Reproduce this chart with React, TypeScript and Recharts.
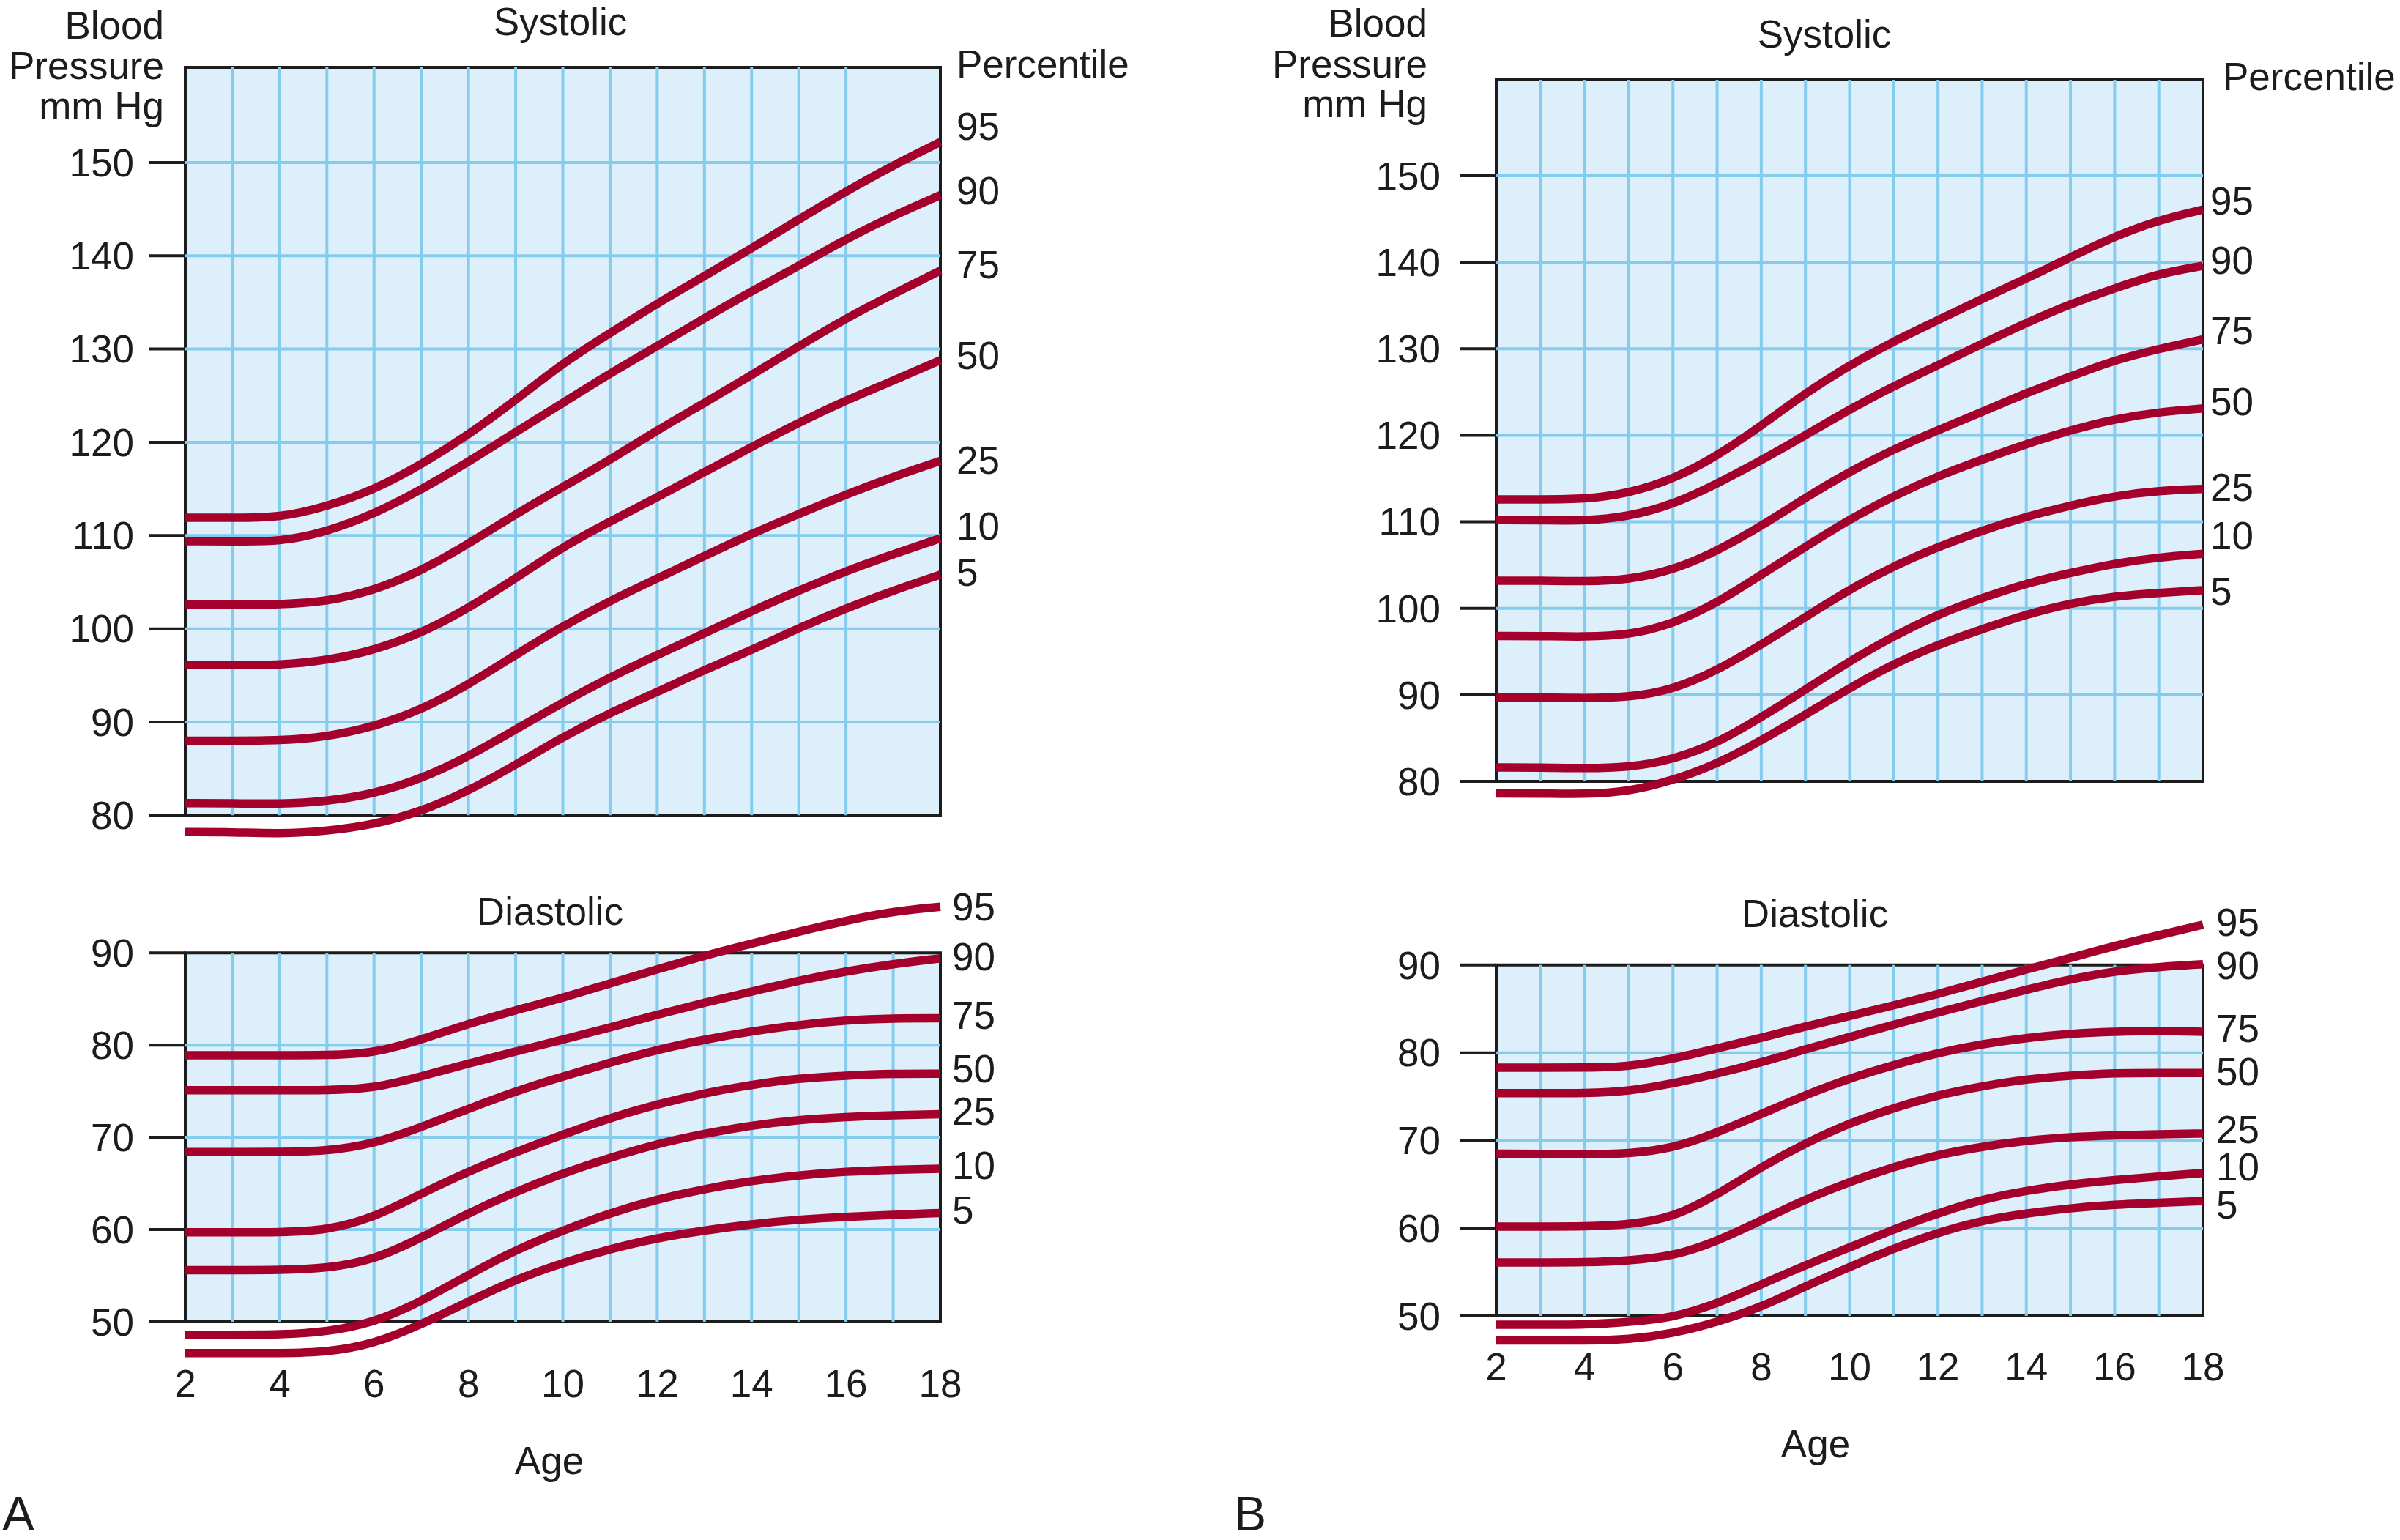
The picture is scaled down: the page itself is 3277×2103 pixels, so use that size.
import { LineChart, Line, XAxis, YAxis, ReferenceArea, ReferenceLine, LabelList } from 'recharts'

const FONT = "'Liberation Sans', Arial, Helvetica, sans-serif"
const RED = '#a5002c'
const GRID = '#84ccee'
const FILL = '#ddeffb'
const INK = '#1c1c1c'

// ages along the x axis, one point per year
const ages = [2, 3, 4, 5, 6, 7, 8, 9, 10, 11, 12, 13, 14, 15, 16, 17, 18]
const percentiles = ['95', '90', '75', '50', '25', '10', '5']
const ageTicks = [2, 4, 6, 8, 10, 12, 14, 16, 18]
const systolicTicks = [80, 90, 100, 110, 120, 130, 140, 150]
const diastolicTicks = [50, 60, 70, 80, 90]

// A – systolic
const sysA95 = [111.9, 111.9, 111.9, 113.1, 114.9, 117.6, 120.8, 124.5, 128.5, 131.7, 134.9, 137.8, 140.8, 143.9, 146.9, 149.7, 152.2]
const sysA90 = [109.4, 109.4, 109.3, 110.4, 112.3, 114.9, 117.9, 121.1, 124.2, 127.4, 130.3, 133.3, 136.2, 138.9, 141.8, 144.3, 146.5]
const sysA75 = [102.6, 102.6, 102.6, 102.9, 104.1, 106.2, 109.1, 112.3, 115.2, 118.1, 121.3, 124.2, 127.2, 130.3, 133.3, 135.9, 138.4]
const sysA50 = [96.1, 96.1, 96.1, 96.6, 97.7, 99.5, 102.2, 105.4, 108.8, 111.5, 114.1, 116.8, 119.5, 122.1, 124.5, 126.6, 128.8]
const sysA25 = [88.0, 88.0, 88.0, 88.4, 89.5, 91.3, 94.0, 97.2, 100.3, 103.0, 105.4, 107.8, 110.2, 112.3, 114.4, 116.3, 118.0]
const sysA10 = [81.3, 81.3, 81.2, 81.5, 82.3, 83.9, 86.3, 89.2, 92.1, 94.8, 97.2, 99.5, 101.9, 104.1, 106.2, 108.0, 109.7]
const sysA5 = [78.2, 78.2, 78.0, 78.3, 79.0, 80.4, 82.6, 85.4, 88.4, 91.0, 93.2, 95.6, 97.7, 100.1, 102.2, 104.1, 105.8]

// A – diastolic
const diaA95 = [78.9, 78.9, 78.9, 78.9, 79.1, 80.6, 82.3, 83.8, 85.1, 86.7, 88.2, 89.7, 91.0, 92.3, 93.5, 94.5, 95.0]
const diaA90 = [75.1, 75.1, 75.1, 75.1, 75.3, 76.6, 78.0, 79.3, 80.6, 81.9, 83.3, 84.6, 85.8, 87.0, 88.0, 88.8, 89.4]
const diaA75 = [68.4, 68.4, 68.4, 68.5, 69.3, 71.1, 73.1, 75.0, 76.6, 78.1, 79.5, 80.6, 81.5, 82.2, 82.7, 82.9, 82.9]
const diaA50 = [59.7, 59.7, 59.7, 59.9, 61.3, 63.9, 66.3, 68.4, 70.3, 72.1, 73.6, 74.8, 75.7, 76.4, 76.7, 76.9, 76.9]
const diaA25 = [55.6, 55.6, 55.6, 55.8, 56.7, 59.1, 61.8, 64.1, 66.1, 67.8, 69.3, 70.4, 71.3, 71.9, 72.2, 72.4, 72.5]
const diaA10 = [48.6, 48.6, 48.6, 48.9, 49.9, 52.2, 55.1, 57.8, 59.9, 61.8, 63.3, 64.4, 65.3, 65.9, 66.3, 66.5, 66.6]
const diaA5 = [46.6, 46.6, 46.6, 46.7, 47.6, 49.7, 52.2, 54.6, 56.4, 57.9, 59.1, 59.9, 60.6, 61.1, 61.4, 61.6, 61.8]

// B – systolic
const sysB95 = [112.6, 112.6, 112.6, 113.3, 114.9, 117.6, 121.1, 124.9, 128.1, 130.9, 133.3, 135.8, 138.1, 140.6, 143.0, 144.9, 146.1]
const sysB90 = [110.2, 110.2, 110.1, 110.6, 112.0, 114.4, 117.1, 120.0, 123.0, 125.7, 128.1, 130.6, 133.0, 135.2, 137.0, 138.7, 139.6]
const sysB75 = [103.2, 103.2, 103.1, 103.3, 104.4, 106.6, 109.5, 112.8, 115.8, 118.4, 120.6, 122.7, 124.9, 126.8, 128.7, 130.0, 131.1]
const sysB50 = [96.8, 96.8, 96.7, 96.9, 98.2, 100.6, 103.9, 107.1, 110.3, 113.0, 115.3, 117.2, 119.0, 120.6, 121.9, 122.7, 123.1]
const sysB25 = [89.7, 89.7, 89.6, 89.7, 90.6, 92.8, 95.8, 99.0, 102.2, 104.9, 107.1, 109.0, 110.6, 111.9, 113.0, 113.6, 113.8]
const sysB10 = [81.6, 81.6, 81.5, 81.6, 82.5, 84.4, 87.4, 90.6, 93.9, 96.8, 99.3, 101.2, 102.9, 104.1, 105.2, 105.9, 106.3]
const sysB5 = [78.6, 78.6, 78.5, 78.8, 80.1, 82.0, 84.7, 87.7, 90.8, 93.6, 95.8, 97.6, 99.3, 100.6, 101.4, 101.8, 102.1]

// B – diastolic
const diaB95 = [78.3, 78.3, 78.3, 78.4, 79.3, 80.5, 81.7, 83.0, 84.2, 85.4, 86.7, 88.1, 89.5, 90.8, 92.2, 93.4, 94.6]
const diaB90 = [75.4, 75.4, 75.4, 75.6, 76.5, 77.6, 78.9, 80.4, 81.8, 83.2, 84.6, 85.9, 87.2, 88.4, 89.3, 89.8, 90.1]
const diaB75 = [68.5, 68.5, 68.4, 68.5, 69.1, 70.9, 73.0, 75.2, 77.1, 78.6, 80.0, 81.0, 81.7, 82.2, 82.4, 82.5, 82.4]
const diaB50 = [60.2, 60.2, 60.2, 60.4, 61.2, 63.8, 67.0, 69.7, 72.0, 73.7, 75.2, 76.2, 77.0, 77.4, 77.7, 77.7, 77.7]
const diaB25 = [56.1, 56.1, 56.1, 56.3, 56.8, 58.5, 60.9, 63.3, 65.3, 67.0, 68.4, 69.3, 70.0, 70.4, 70.6, 70.7, 70.8]
const diaB10 = [49.0, 49.0, 49.0, 49.3, 49.8, 51.4, 53.6, 55.8, 57.8, 59.9, 61.7, 63.3, 64.3, 65.0, 65.5, 65.9, 66.3]
const diaB5 = [47.2, 47.2, 47.2, 47.3, 48.0, 49.3, 51.0, 53.4, 55.6, 57.7, 59.5, 60.9, 61.7, 62.3, 62.7, 62.9, 63.1]

function buildRows(cols: number[][]) {
  return ages.map((age, i) => {
    const row: Record<string, number> = { age }
    percentiles.forEach((p, j) => {
      row['p' + p] = cols[j][i]
    })
    return row
  })
}

const rowsSysA = buildRows([sysA95, sysA90, sysA75, sysA50, sysA25, sysA10, sysA5])
const rowsDiaA = buildRows([diaA95, diaA90, diaA75, diaA50, diaA25, diaA10, diaA5])
const rowsSysB = buildRows([sysB95, sysB90, sysB75, sysB50, sysB25, sysB10, sysB5])
const rowsDiaB = buildRows([diaB95, diaB90, diaB75, diaB50, diaB25, diaB10, diaB5])

const Y_AXIS_W = 230

interface Layout {
  left: number
  top: number
  plotW: number
  rightPad: number
  padTop: number
  plotH: number
  axisH: number
}

interface ChartProps {
  rows: Record<string, number>[]
  layout: Layout
  yDomain: [number, number]
  yTicks: number[]
  box: [number, number]
  gridAges: number[]
  showAge: boolean
  tickMargin: number
  labelDx: number
  labelDy: number[]
}

const endLabel = (text: string, dx: number, dy: number) => (props: any) => {
  const last = ages.length - 1
  if (props.index !== last) return null
  const vb = props.viewBox || {}
  const x = (vb.x ?? props.x) + dx
  const y = (vb.y ?? props.y) + dy
  return (
    <text x={x} y={y + 19} fontSize={53} fontFamily={FONT} fill={INK} textAnchor="start">
      {text}
    </text>
  )
}

function PercentileChart({ rows, layout, yDomain, yTicks, box, gridAges, showAge, tickMargin, labelDx, labelDy }: ChartProps) {
  const [lo, hi] = box
  const width = Y_AXIS_W + layout.plotW + layout.rightPad
  const height = layout.padTop + layout.plotH + layout.axisH
  const gridValues = yTicks.filter((v) => v > lo && v < hi)
  return (
    <div style={{ position: 'absolute', left: layout.left, top: layout.top }}>
      <LineChart
        width={width}
        height={height}
        data={rows}
        margin={{ top: layout.padTop, right: layout.rightPad, bottom: 0, left: 0 }}
      >
        <XAxis
          dataKey="age"
          type="number"
          domain={[2, 18]}
          ticks={ageTicks}
          interval={0}
          hide={!showAge}
          height={layout.axisH}
          axisLine={false}
          tickLine={false}
          tickSize={0}
          tickMargin={2}
          tick={{ fontSize: 53, fill: INK, fontFamily: FONT }}
        />
        <YAxis
          type="number"
          domain={yDomain}
          ticks={yTicks}
          interval={0}
          width={Y_AXIS_W}
          axisLine={false}
          tickLine={{ stroke: INK, strokeWidth: 4 }}
          tickSize={49}
          tickMargin={tickMargin}
          tick={{ fontSize: 53, fill: INK, fontFamily: FONT }}
        />
        <ReferenceArea x1={2} x2={18} y1={lo} y2={hi} fill={FILL} fillOpacity={1} stroke="none" />
        {gridAges.map((a) => (
          <ReferenceLine
            key={'v' + a}
            segment={[{ x: a, y: lo }, { x: a, y: hi }]}
            stroke={GRID}
            strokeWidth={4}
          />
        ))}
        {gridValues.map((v) => (
          <ReferenceLine
            key={'h' + v}
            segment={[{ x: 2, y: v }, { x: 18, y: v }]}
            stroke={GRID}
            strokeWidth={4}
          />
        ))}
        <ReferenceArea x1={2} x2={18} y1={lo} y2={hi} fill="none" stroke={INK} strokeWidth={4} />
        {percentiles.map((p, j) => (
          <Line
            key={p}
            dataKey={'p' + p}
            type="basis"
            stroke={RED}
            strokeWidth={11.5}
            dot={false}
            activeDot={false}
            isAnimationActive={false}
          >
            <LabelList dataKey={'p' + p} content={endLabel(p, labelDx, labelDy[j])} />
          </Line>
        ))}
      </LineChart>
    </div>
  )
}

const yearLines = [3, 4, 5, 6, 7, 8, 9, 10, 11, 12, 13, 14, 15, 16, 17]
const yearLinesSysA = [3, 4, 5, 6, 7, 8, 9, 10, 11, 12, 13, 14, 15, 16]

function T({ x, y, anchor = 'start', size = 53, children }: any) {
  return (
    <text x={x} y={y} textAnchor={anchor} fontSize={size} fontFamily={FONT} fill={INK}>
      {children}
    </text>
  )
}

export default function App() {
  return (
    <div style={{ position: 'relative', width: 3277, height: 2103, background: '#fff', fontFamily: FONT, overflow: 'hidden' }}>
      <style>{'body{margin:0}'}</style>

      <PercentileChart
        rows={rowsSysA}
        layout={{ left: 23, top: 0, plotW: 1031, rightPad: 200, padTop: 92, plotH: 1085, axisH: 0 }}
        yDomain={[75, 160.2]}
        yTicks={systolicTicks}
        box={[80, 160.2]}
        gridAges={yearLinesSysA}
        showAge={false}
        tickMargin={21}
        labelDx={22}
        labelDy={[-22, -6, -9, -7, -1, -17, -4]}
      />
      <PercentileChart
        rows={rowsDiaA}
        layout={{ left: 23, top: 1150, plotW: 1031, rightPad: 200, padTop: 63, plotH: 655, axisH: 100 }}
        yDomain={[45, 97]}
        yTicks={diastolicTicks}
        box={[50, 90]}
        gridAges={yearLines}
        showAge={true}
        tickMargin={21}
        labelDx={16}
        labelDy={[0, -3, -5, -7, -5, -5, -4]}
      />
      <PercentileChart
        rows={rowsSysB}
        layout={{ left: 1813, top: 0, plotW: 965, rightPad: 269, padTop: 109, plotH: 1017, axisH: 0 }}
        yDomain={[75, 161.1]}
        yTicks={systolicTicks}
        box={[80, 161.1]}
        gridAges={yearLines}
        showAge={false}
        tickMargin={27}
        labelDx={10}
        labelDy={[-12, -8, -12, -10, -3, -25, 1]}
      />
      <PercentileChart
        rows={rowsDiaB}
        layout={{ left: 1813, top: 1171, plotW: 965, rightPad: 269, padTop: 63, plotH: 611, axisH: 100 }}
        yDomain={[46, 97]}
        yTicks={diastolicTicks}
        box={[50, 90]}
        gridAges={yearLines}
        showAge={true}
        tickMargin={27}
        labelDx={18}
        labelDy={[-4, 1, -5, -2, -6, -9, 5]}
      />

      <svg width={3277} height={2103} style={{ position: 'absolute', left: 0, top: 0, pointerEvents: 'none' }}>
        <T x={224} y={53} anchor="end">Blood</T>
        <T x={224} y={108} anchor="end">Pressure</T>
        <T x={224} y={163} anchor="end">mm Hg</T>
        <T x={765} y={48} anchor="middle">Systolic</T>
        <T x={1306} y={106}>Percentile</T>
        <T x={751} y={1263} anchor="middle">Diastolic</T>
        <T x={750} y={2013} anchor="middle">Age</T>
        <T x={3} y={2090} size={66}>A</T>

        <T x={1949} y={50} anchor="end">Blood</T>
        <T x={1949} y={106} anchor="end">Pressure</T>
        <T x={1949} y={160} anchor="end">mm Hg</T>
        <T x={2491} y={65} anchor="middle">Systolic</T>
        <T x={3035} y={123}>Percentile</T>
        <T x={2478} y={1266} anchor="middle">Diastolic</T>
        <T x={2479} y={1990} anchor="middle">Age</T>
        <T x={1685} y={2090} size={66}>B</T>
      </svg>
    </div>
  )
}
